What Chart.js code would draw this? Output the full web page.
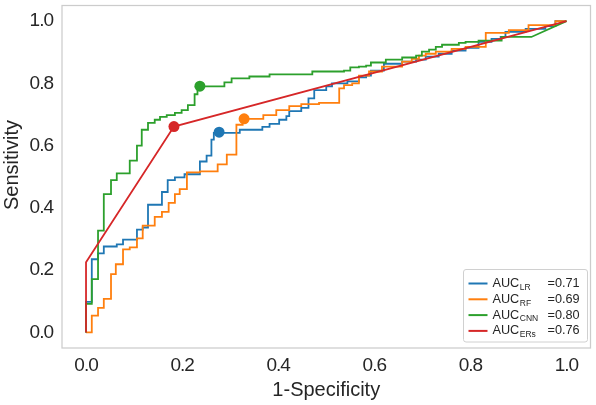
<!DOCTYPE html>
<html>
<head>
<meta charset="utf-8">
<script src="https://cdn.jsdelivr.net/npm/chart.js@4.4.1/dist/chart.umd.min.js"></script>
<style>
  html, body { margin: 0; padding: 0; background: #fff; }
</style>
</head>
<body>
<canvas id="roc" width="596" height="405"></canvas>
<script>
// modelos y AUC (leyenda)
const modelos = ['LR', 'RF', 'CNN', 'ERs'];
const aucs = ['0.71', '0.69', '0.80', '0.76'];
const colores = ['#1f77b4', '#ff7f0e', '#2ca02c', '#d62728'];
const ticksX = [0, 0.2, 0.4, 0.6, 0.8, 1.0];
const ticksY = [0, 0.2, 0.4, 0.6, 0.8, 1.0];

// curvas ROC [fpr, tpr]
const rocLR = [[0,0],[0,0.098],[0.012,0.098],[0.012,0.235],[0.025,0.235],[0.025,0.254],[0.037,0.254],[0.037,0.276],[0.064,0.276],[0.064,0.283],[0.077,0.283],[0.077,0.298],[0.106,0.298],[0.106,0.330],[0.118,0.330],[0.118,0.337],[0.129,0.337],[0.129,0.410],[0.158,0.410],[0.158,0.451],[0.170,0.451],[0.170,0.489],[0.185,0.489],[0.185,0.498],[0.205,0.498],[0.205,0.508],[0.237,0.508],[0.237,0.549],[0.251,0.549],[0.251,0.568],[0.261,0.568],[0.261,0.619],[0.266,0.619],[0.266,0.641],[0.320,0.641],[0.320,0.651],[0.367,0.651],[0.367,0.660],[0.382,0.660],[0.382,0.670],[0.402,0.670],[0.402,0.683],[0.417,0.683],[0.417,0.695],[0.423,0.695],[0.423,0.711],[0.448,0.711],[0.448,0.721],[0.463,0.721],[0.463,0.752],[0.475,0.752],[0.475,0.778],[0.500,0.778],[0.500,0.790],[0.512,0.790],[0.512,0.800],[0.544,0.800],[0.544,0.806],[0.568,0.806],[0.568,0.819],[0.583,0.819],[0.583,0.825],[0.593,0.825],[0.593,0.841],[0.620,0.841],[0.620,0.863],[0.658,0.863],[0.658,0.870],[0.687,0.870],[0.687,0.876],[0.707,0.876],[0.707,0.886],[0.734,0.886],[0.734,0.895],[0.761,0.895],[0.761,0.905],[0.790,0.905],[0.790,0.914],[0.817,0.914],[0.817,0.933],[0.844,0.933],[0.844,0.943],[0.863,0.943],[0.863,0.949],[0.873,0.949],[0.873,0.965],[0.915,0.965],[0.915,0.975],[0.956,0.975],[0.956,0.984],[0.977,0.984],[0.977,1],[1,1]];
const rocRF = [[0,0],[0.012,0],[0.012,0.054],[0.025,0.054],[0.025,0.079],[0.037,0.079],[0.037,0.108],[0.052,0.108],[0.052,0.187],[0.062,0.187],[0.062,0.219],[0.077,0.219],[0.077,0.267],[0.091,0.267],[0.091,0.273],[0.106,0.273],[0.106,0.302],[0.118,0.302],[0.118,0.343],[0.143,0.343],[0.143,0.371],[0.158,0.371],[0.158,0.387],[0.172,0.387],[0.172,0.416],[0.185,0.416],[0.185,0.444],[0.195,0.444],[0.195,0.460],[0.210,0.460],[0.210,0.514],[0.237,0.514],[0.237,0.517],[0.274,0.517],[0.274,0.540],[0.293,0.540],[0.293,0.571],[0.313,0.571],[0.313,0.667],[0.326,0.667],[0.326,0.686],[0.369,0.686],[0.369,0.698],[0.396,0.698],[0.396,0.714],[0.423,0.714],[0.423,0.727],[0.448,0.727],[0.448,0.733],[0.485,0.733],[0.485,0.737],[0.527,0.737],[0.527,0.784],[0.537,0.784],[0.537,0.794],[0.554,0.794],[0.554,0.800],[0.568,0.800],[0.568,0.825],[0.589,0.825],[0.589,0.838],[0.616,0.838],[0.616,0.854],[0.658,0.854],[0.658,0.870],[0.678,0.870],[0.678,0.879],[0.693,0.879],[0.693,0.889],[0.707,0.889],[0.707,0.895],[0.728,0.895],[0.728,0.902],[0.761,0.902],[0.761,0.911],[0.790,0.911],[0.790,0.917],[0.832,0.917],[0.832,0.962],[0.880,0.962],[0.880,0.971],[0.921,0.971],[0.921,0.987],[0.977,0.987],[0.977,1],[1,1]];
const rocCNN = [[0,0],[0,0.092],[0.012,0.092],[0.012,0.171],[0.025,0.171],[0.025,0.327],[0.037,0.327],[0.037,0.444],[0.052,0.444],[0.052,0.489],[0.064,0.489],[0.064,0.511],[0.091,0.511],[0.091,0.552],[0.106,0.552],[0.106,0.600],[0.116,0.600],[0.116,0.651],[0.129,0.651],[0.129,0.673],[0.143,0.673],[0.143,0.683],[0.154,0.683],[0.154,0.692],[0.168,0.692],[0.168,0.698],[0.185,0.698],[0.185,0.705],[0.199,0.705],[0.199,0.714],[0.212,0.714],[0.212,0.730],[0.226,0.730],[0.226,0.765],[0.232,0.765],[0.232,0.790],[0.288,0.790],[0.288,0.803],[0.303,0.803],[0.303,0.816],[0.340,0.816],[0.340,0.822],[0.382,0.822],[0.382,0.829],[0.471,0.829],[0.471,0.838],[0.537,0.838],[0.537,0.841],[0.550,0.841],[0.550,0.851],[0.568,0.851],[0.568,0.854],[0.583,0.854],[0.583,0.857],[0.593,0.857],[0.593,0.867],[0.624,0.867],[0.624,0.876],[0.658,0.876],[0.658,0.883],[0.687,0.883],[0.687,0.889],[0.699,0.889],[0.699,0.902],[0.714,0.902],[0.714,0.908],[0.728,0.908],[0.728,0.917],[0.741,0.917],[0.741,0.924],[0.776,0.924],[0.776,0.930],[0.790,0.930],[0.790,0.933],[0.817,0.933],[0.817,0.937],[0.865,0.937],[0.865,0.949],[0.927,0.949],[1,1]];
const rocERs = [[0,0],[0,0.225],[0.183,0.661],[1,1]];

// puntos de corte
const corteFpr = [0.277, 0.329, 0.237, 0.183];
const corteTpr = [0.643, 0.686, 0.791, 0.661];

const curvas = [rocLR, rocRF, rocCNN, rocERs];
const texto = '#262626';
const fuente = '"Liberation Sans", Arial, sans-serif';

const marco = {
    id: 'marco',
    beforeDraw(chart) {
        // etiquetas de ticks algo más apretadas, como en la figura original
        chart.ctx.letterSpacing = '-1px';
    },
    beforeDatasetsDraw(chart) {
        const { ctx, chartArea: a } = chart;
        ctx.save();
        ctx.strokeStyle = '#cccccc';
        ctx.lineWidth = 1.25;
        ctx.strokeRect(a.left, a.top, a.right - a.left, a.bottom - a.top);
        ctx.restore();
    },
    afterDraw(chart) {
        const { ctx, chartArea: a } = chart;
        ctx.letterSpacing = '0px';
        ctx.save();
        ctx.fillStyle = texto;
        ctx.textAlign = 'center';
        ctx.textBaseline = 'middle';
        ctx.font = '20px ' + fuente;
        ctx.fillText('1-Specificity', (a.left + a.right) / 2, 390);
        ctx.translate(12, 165);
        ctx.rotate(-Math.PI / 2);
        ctx.fillText('Sensitivity', 0, 0);
        ctx.restore();
    }
};

const leyenda = {
    id: 'leyenda',
    afterDraw(chart) {
        const { ctx, chartArea: a } = chart;
        const w = 124, h = 72.5;
        const x0 = a.right - 3 - w, y0 = a.bottom - 6 - h;
        ctx.save();
        ctx.letterSpacing = '0px';
        ctx.fillStyle = 'rgba(255,255,255,0.85)';
        ctx.strokeStyle = '#d0d0d0';
        ctx.lineWidth = 1;
        ctx.beginPath();
        ctx.roundRect(x0, y0, w, h, 2.5);
        ctx.fill();
        ctx.stroke();
        modelos.forEach((m, i) => {
            const y = y0 + 14 + i * 15.8;
            ctx.strokeStyle = colores[i];
            ctx.lineWidth = 2;
            ctx.beginPath();
            ctx.moveTo(x0 + 5, y);
            ctx.lineTo(x0 + 24, y);
            ctx.stroke();
            ctx.fillStyle = texto;
            ctx.textBaseline = 'middle';
            ctx.textAlign = 'left';
            ctx.font = '12.7px ' + fuente;
            ctx.fillText('AUC', x0 + 29, y);
            const wa = ctx.measureText('AUC').width;
            ctx.font = '8.5px ' + fuente;
            ctx.fillText(m, x0 + 29 + wa + 0.5, y + 4);
            ctx.font = '12.7px ' + fuente;
            ctx.fillText('=' + aucs[i], x0 + 84, y);
        });
        ctx.restore();
    }
};

const datasets = curvas.map((c, i) => ({
    label: modelos[i],
    data: c.map(p => ({ x: p[0], y: p[1] })),
    showLine: true,
    borderColor: colores[i],
    backgroundColor: colores[i],
    borderWidth: 1.8,
    pointRadius: 0,
    tension: 0,
    order: 4 - i
}));
corteFpr.forEach((fx, i) => {
    datasets.push({
        label: 'corte ' + modelos[i],
        data: [{ x: fx, y: corteTpr[i] }],
        backgroundColor: colores[i],
        borderColor: colores[i],
        borderWidth: 0,
        pointRadius: 5.5,
        order: 0
    });
});

new Chart(document.getElementById('roc'), {
    type: 'scatter',
    data: { datasets },
    options: {
        responsive: false,
        animation: false,
        devicePixelRatio: 1,
        layout: { padding: { top: 2, right: 4, left: 0, bottom: 0 } },
        plugins: { legend: { display: false }, tooltip: { enabled: false } },
        scales: {
            x: {
                type: 'linear', min: -0.05, max: 1.05,
                grid: { display: false, drawTicks: false },
                border: { display: false },
                ticks: { padding: 6, color: texto, font: { family: fuente, size: 19 }, callback: v => v.toFixed(1) },
                afterBuildTicks: s => { s.ticks = ticksX.map(v => ({ value: v })); },
                afterFit: s => { s.height = 57; s.paddingLeft = 0; s.paddingRight = 0; }
            },
            y: {
                type: 'linear', min: -0.05, max: 1.05,
                grid: { display: false, drawTicks: false },
                border: { display: false },
                ticks: { padding: 9, color: texto, font: { family: fuente, size: 19 }, callback: v => v.toFixed(1) },
                afterBuildTicks: s => { s.ticks = ticksY.map(v => ({ value: v })); },
                afterFit: s => { s.width = 62; s.paddingTop = 0; s.paddingBottom = 0; }
            }
        }
    },
    plugins: [marco, leyenda]
});
</script>
</body>
</html>
